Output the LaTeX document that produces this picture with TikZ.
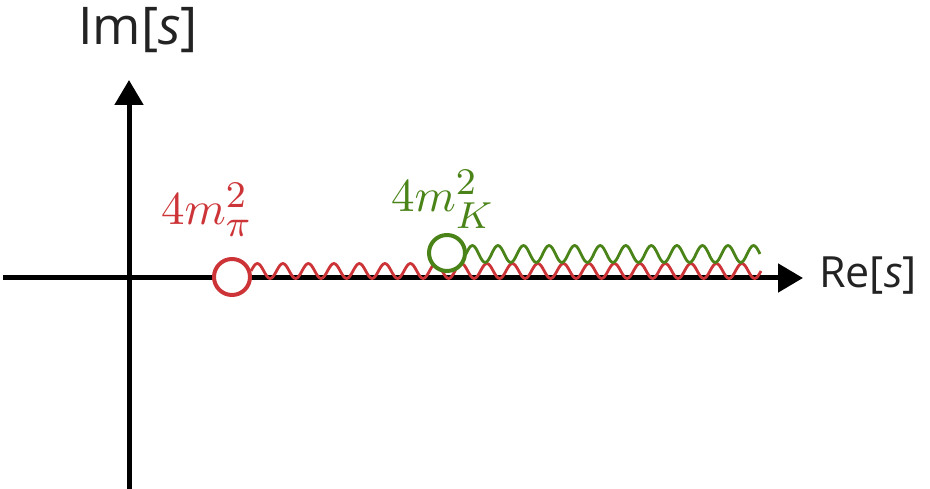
\documentclass[tikz,border=0pt]{standalone}
\usepackage{fontspec}
\setsansfont{Open Sans}
\usetikzlibrary{positioning, arrows.meta}
\DeclareMathSizes{10}{10}{8}{6}
\definecolor{cutred}{RGB}{204, 52, 56}
\definecolor{cutgreen}{RGB}{74, 132, 24}
\definecolor{axisgray}{RGB}{35, 35, 35}
\tikzset{
  axis/.style={line width=5pt, -{Triangle[length=25pt, width=28pt]}},
  threshold/.style={circle, draw, line width=4pt, fill=white, minimum size=36pt, inner sep=0pt},
  cut/.style={line width=2.8pt, line join=round},
  axislabel/.style={inner sep=0pt, anchor=base west, text=axisgray},
  masslabel/.style={inner sep=0pt, anchor=base west}
}
\newcommand{\masstext}[1]{\scalebox{4.7}{$#1$}}

\begin{document}
\begin{tikzpicture}[x=1pt, y=-1pt]
    \useasboundingbox (0,0) rectangle (930,489);

    % ejes del plano complejo
    \coordinate (west) at (3,278);
    \coordinate (east) at (803,278);
    \coordinate (south) at (129,489);
    \coordinate (north) at (129,80);
    \draw [axis] (west) -- (east);
    \draw [axis] (south) -- (north);

    \node [axislabel, font=\sffamily\fontsize{52}{52}\selectfont] (imlabel) at (78,45) {Im[\textit{s}]};
    \node [axislabel, font=\sffamily\fontsize{43}{43}\selectfont] (relabel) at (819,288) {Re[\textit{s}]};

    % corte de dos piones
    \coordinate (pistart) at (251,271);
    \draw [cut, cutred] (pistart)
      \foreach \i in {1,...,20} {sin ++(6.375,-7.5) cos ++(6.375,7.5) sin ++(6.375,7.5) cos ++(6.375,-7.5)};
    \node [threshold, draw=cutred] (pi) at (232,277) {};
    \node [masslabel, text=cutred] (pilabel) at (161,225) {\masstext{4m_\pi^2}};

    % corte de dos kaones
    \coordinate (kstart) at (466,254);
    \draw [cut, cutgreen] (kstart)
      \foreach \i in {1,...,11} {sin ++(6.39,-8.5) cos ++(6.39,8.5) sin ++(6.39,8.5) cos ++(6.39,-8.5)}
      sin ++(6.39,-8.5) cos ++(6.39,8.5);
    \node [threshold, draw=cutgreen] (kaon) at (447,253) {};
    \node [masslabel, text=cutgreen] (klabel) at (391,212) {\masstext{4m_K^2}};
\end{tikzpicture}
\end{document}
